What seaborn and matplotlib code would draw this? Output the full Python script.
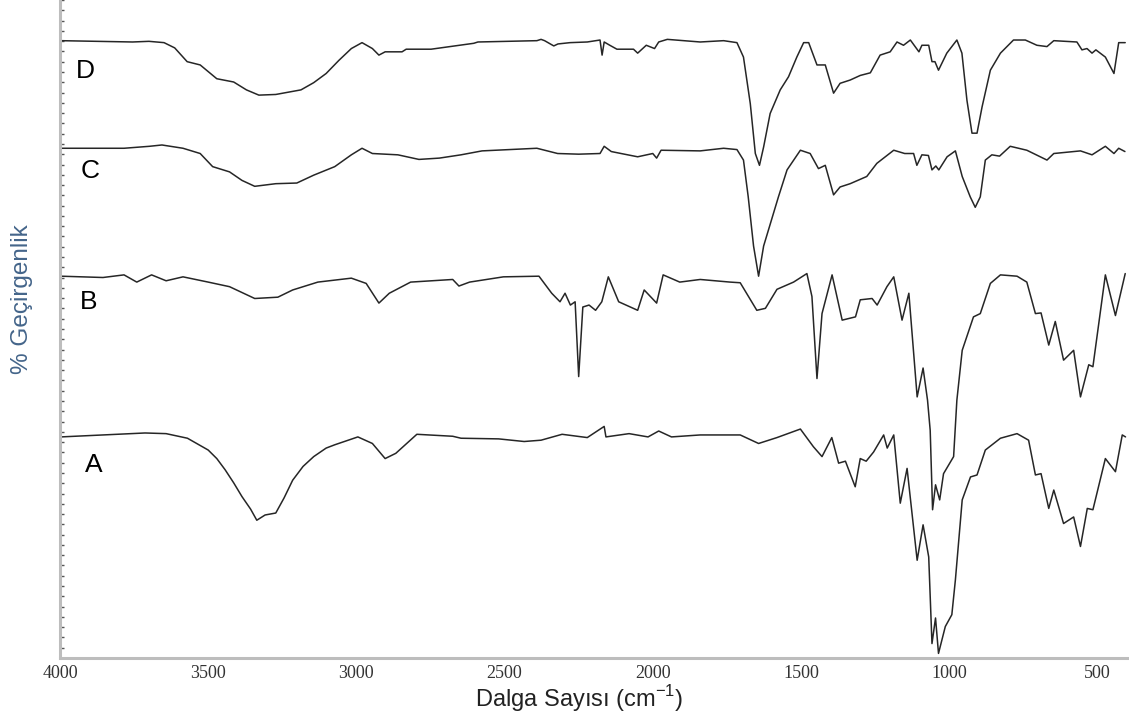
import numpy as np
import pandas as pd
import seaborn as sns
import matplotlib.pyplot as plt
from matplotlib.ticker import MultipleLocator

# FTIR spectra, values (wavenumber, offset %T)
wn_D = [3997, 3755, 3700, 3649, 3613, 3571, 3527, 3471, 3414, 3371, 3329, 3272, 3187, 3144,
        3102, 3059, 3017, 2981, 2946, 2924, 2903, 2846, 2832, 2748, 2604, 2590, 2391, 2377,
        2365, 2334, 2320, 2279, 2221, 2178, 2171, 2164, 2145, 2121, 2065, 2051, 2022, 1994,
        1980, 1951, 1840, 1761, 1716, 1694, 1671, 1654, 1640, 1626, 1604, 1570, 1542, 1514,
        1491, 1474, 1446, 1418, 1390, 1368, 1334, 1300, 1266, 1233, 1199, 1176, 1154, 1131,
        1102, 1092, 1069, 1058, 1048, 1036, 1008, 974, 957, 940, 923, 906, 889, 861, 827, 783,
        743, 704, 670, 647, 569, 552, 535, 518, 505, 473, 444, 428, 406]
t_D = [94.1, 93.9, 94.0, 93.8, 93.0, 90.9, 90.4, 88.3, 87.8, 86.6, 85.8, 85.9, 86.6, 87.7,
       89.1, 91.1, 92.9, 93.8, 92.9, 91.9, 92.4, 92.4, 92.8, 92.8, 93.7, 93.9, 94.1, 94.3,
       94.1, 93.3, 93.6, 93.8, 93.9, 94.2, 91.9, 93.9, 93.4, 92.8, 92.8, 92.2, 93.4, 92.9,
       93.9, 94.3, 93.9, 94.1, 93.8, 91.6, 84.5, 76.9, 75.1, 77.9, 83.0, 86.6, 88.6, 91.6,
       93.8, 93.8, 90.4, 90.4, 86.1, 87.6, 88.1, 88.8, 89.2, 91.9, 92.4, 93.9, 93.4, 94.2,
       92.4, 93.4, 93.4, 90.9, 90.9, 89.6, 92.2, 94.2, 92.2, 85.0, 80.0, 80.0, 84.0, 89.6,
       92.2, 94.2, 94.2, 93.4, 93.2, 94.1, 93.9, 92.7, 92.9, 92.2, 92.7, 91.6, 89.1, 93.8, 93.8]

wn_C = [3997, 3784, 3698, 3656, 3585, 3527, 3485, 3428, 3386, 3343, 3272, 3201, 3144, 3073,
        3017, 2981, 2946, 2860, 2789, 2720, 2647, 2576, 2391, 2321, 2250, 2178, 2164, 2140,
        2107, 2051, 2000, 1987, 1972, 1840, 1761, 1716, 1694, 1678, 1660, 1643, 1626, 1576,
        1547, 1502, 1469, 1441, 1418, 1390, 1368, 1334, 1278, 1244, 1187, 1150, 1120, 1109,
        1092, 1070, 1058, 1045, 1035, 1007, 979, 956, 929, 912, 895, 878, 856, 830, 794, 738,
        670, 647, 557, 518, 473, 444, 428, 407]
t_C = [77.7, 77.7, 78.0, 78.2, 77.7, 76.9, 74.9, 74.1, 72.8, 71.9, 72.3, 72.4, 73.6, 74.9,
       76.7, 77.7, 76.9, 76.7, 76.0, 76.2, 76.7, 77.3, 77.7, 76.9, 76.8, 76.9, 78.0, 77.2,
       76.9, 76.4, 76.9, 76.2, 77.4, 77.3, 77.7, 77.5, 75.9, 70.3, 62.8, 58.2, 62.8, 70.3,
       74.4, 77.4, 76.9, 74.6, 75.1, 70.6, 71.8, 72.3, 73.4, 75.4, 77.4, 76.9, 76.9, 75.1,
       76.7, 76.6, 74.4, 75.0, 74.4, 76.4, 77.3, 73.4, 70.3, 68.7, 70.3, 75.9, 76.7, 76.5,
       78.0, 77.4, 75.9, 76.9, 77.3, 76.7, 78.0, 76.9, 77.7, 77.2]

wn_B = [3997, 3855, 3784, 3741, 3691, 3642, 3585, 3500, 3428, 3343, 3265, 3215, 3130, 3017,
        2967, 2924, 2889, 2817, 2675, 2654, 2618, 2504, 2384, 2341, 2313, 2296, 2278, 2262,
        2250, 2236, 2215, 2193, 2172, 2150, 2115, 2051, 2029, 1987, 1965, 1909, 1840, 1739,
        1705, 1649, 1620, 1581, 1525, 1480, 1463, 1446, 1429, 1395, 1361, 1316, 1300, 1260,
        1243, 1210, 1187, 1159, 1136, 1108, 1088, 1073, 1064, 1056, 1046, 1032, 1019, 985,
        974, 956, 918, 895, 861, 827, 771, 738, 709, 690, 664, 642, 614, 580, 557, 529, 515,
        473, 439, 406]
t_B = [58.2, 58.0, 58.4, 57.3, 58.4, 57.5, 58.1, 57.3, 56.6, 54.8, 55.0, 56.1, 57.3, 57.9,
       57.1, 54.1, 55.6, 57.3, 57.7, 56.7, 57.3, 58.1, 58.2, 55.6, 54.3, 55.6, 53.8, 54.3,
       42.9, 53.5, 53.8, 53.0, 54.3, 58.1, 54.3, 53.0, 56.1, 54.1, 58.4, 57.3, 57.7, 57.3,
       57.2, 53.0, 53.3, 56.2, 57.3, 58.6, 55.1, 42.6, 52.5, 58.4, 51.5, 52.0, 54.6, 54.8,
       53.8, 56.6, 58.1, 51.5, 55.6, 39.8, 44.2, 39.3, 34.7, 22.6, 26.4, 24.1, 28.1, 30.7,
       39.3, 46.9, 52.0, 52.5, 57.1, 58.4, 58.2, 57.3, 52.5, 52.6, 47.7, 51.3, 45.4, 46.9,
       39.8, 44.7, 44.4, 58.4, 52.2, 58.6]

wn_A = [3997, 3855, 3713, 3642, 3570, 3500, 3471, 3443, 3414, 3386, 3357, 3336, 3308, 3272,
        3244, 3215, 3180, 3144, 3102, 3073, 2995, 2946, 2903, 2867, 2796, 2675, 2647, 2520,
        2434, 2377, 2306, 2221, 2164, 2158, 2080, 2016, 1980, 1937, 1840, 1705, 1643, 1581,
        1502, 1458, 1429, 1396, 1373, 1350, 1334, 1317, 1300, 1280, 1255, 1221, 1209, 1187,
        1165, 1142, 1108, 1088, 1069, 1058, 1046, 1036, 1013, 991, 979, 956, 928, 906, 878,
        827, 771, 732, 709, 690, 664, 647, 614, 580, 557, 534, 515, 473, 439, 416, 405]
t_A = [33.7, 34.0, 34.3, 34.2, 33.5, 31.7, 30.4, 28.7, 26.7, 24.6, 22.7, 21.0, 21.8, 22.1,
       24.4, 27.1, 29.2, 30.7, 32.0, 32.5, 33.7, 32.7, 30.4, 31.2, 34.1, 33.8, 33.5, 33.4,
       33.0, 33.2, 34.1, 33.6, 35.3, 33.7, 34.2, 33.7, 34.6, 33.7, 34.0, 34.0, 32.7, 33.6,
       34.9, 32.2, 30.7, 33.6, 29.7, 30.0, 28.1, 26.1, 30.4, 30.0, 31.4, 34.0, 32.0, 34.0,
       23.6, 28.9, 14.9, 20.3, 15.4, 2.2, 6.1, 0.7, 4.8, 6.6, 11.9, 24.1, 27.6, 27.9, 31.7,
       33.5, 34.2, 33.2, 27.9, 28.1, 22.8, 25.6, 20.5, 21.5, 17.0, 22.8, 22.6, 30.4, 28.4,
       34.0, 33.7]

names = ["D", "C", "B", "A"]
label_wn = [3916, 3899, 3902, 3885]
label_t = [89.5, 74.2, 54.3, 29.4]

spectra = {"D": (wn_D, t_D), "C": (wn_C, t_C), "B": (wn_B, t_B), "A": (wn_A, t_A)}

sns.set_theme(style="white")
plt.rcParams['font.family'] = ['Liberation Sans', 'DejaVu Sans']
plt.rcParams['mathtext.fontset'] = 'custom'
plt.rcParams['mathtext.rm'] = 'Liberation Sans'

fig = plt.figure(figsize=(11.29, 7.22), dpi=100)
ax = fig.add_axes([60 / 1129, 1 - 658 / 722, 1067 / 1129, 658 / 722])

for name in names:
    wn, t = spectra[name]
    df = pd.DataFrame({"wn": wn, "t": t})
    sns.lineplot(data=df, x="wn", y="t", sort=False, estimator=None,
                 color="#262626", lw=1.1, ax=ax)

for name, x, y in zip(names, label_wn, label_t):
    ax.text(x, y, name, fontsize=19, color="black", ha="center", va="center")

ax.set_xlim(4000, 400)
ax.set_ylim(0, 100.3)
ax.set_xlabel("")
ax.set_ylabel("")

for side in ["top", "right"]:
    ax.spines[side].set_visible(False)
for side in ["left", "bottom"]:
    ax.spines[side].set_color("#bdbdbd")
    ax.spines[side].set_linewidth(2.2)

ax.xaxis.set_major_locator(MultipleLocator(500))
ax.xaxis.set_minor_locator(MultipleLocator(100))
ax.yaxis.set_major_locator(MultipleLocator(100.3 / 64))
ax.set_yticklabels([])
ax.tick_params(axis="x", which="both", direction="inout", colors="#444444",
               length=4, width=1.2, pad=3, labelsize=13)
ax.tick_params(axis="x", which="minor", length=3, width=1)
ax.tick_params(axis="y", which="both", direction="in", colors="#555555",
               length=3, width=1, left=True)
for lab in ax.get_xticklabels():
    lab.set_fontfamily("Liberation Serif")
    lab.set_color("#333333")

fig.text(579 / 1129, 1 - 699 / 722, "Dalga Sayısı (cm$^{\\mathregular{-1}}$)",
         fontsize=17, color="#222222", ha="center", va="center")
fig.text(22 / 1129, 1 - 299 / 722, "% Geçirgenlik", fontsize=17.5, color="#44658a",
         rotation=90, ha="center", va="center")

fig.savefig("out.png", dpi=100)
